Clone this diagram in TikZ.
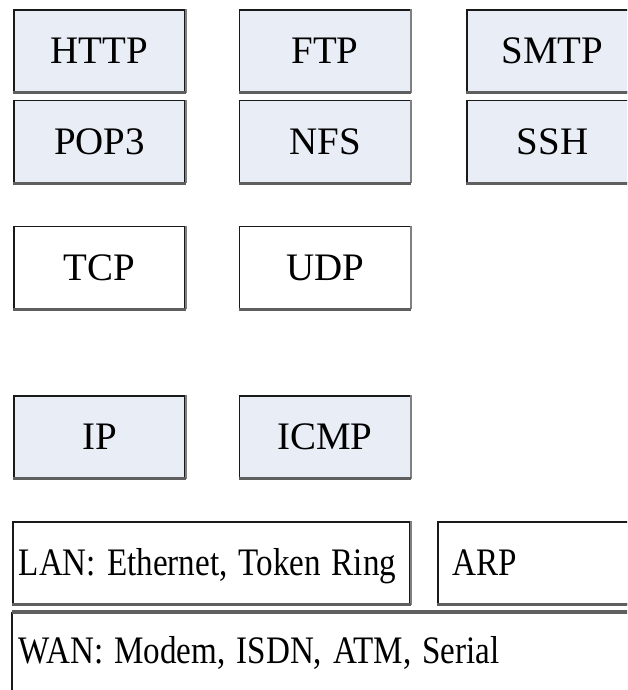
\documentclass[tikz,border=0pt]{standalone}
\usepackage{fontspec}
\setmainfont{Liberation Serif}
\usepackage{graphicx}
\definecolor{boxfill}{RGB}{233,237,246}
\definecolor{edgegray}{RGB}{95,95,95}
\newcommand{\narrow}[1]{\scalebox{0.85}[1]{#1}}

\begin{document}
\begin{tikzpicture}[x=0.025cm, y=-0.025cm,
  proto/.style={draw=black!90, line width=1.1pt, fill=boxfill, inner sep=0pt,
    minimum width=4.275cm, minimum height=2.05cm,
    font=\fontsize{27.7}{33}\selectfont, text height=18.3pt, text depth=0pt},
  plainbox/.style={proto, fill=white},
  linkbox/.style={plainbox, inner xsep=0.15cm, align=left},
  lower/.style={edgegray, line width=2.2pt},
  side/.style={gray, line width=1.3pt}]
\clip (0,0) rectangle (627,690);
% application layer
\node[proto] (http) at (99.5,51) {HTTP};
\node[proto] (ftp) at (325,51) {FTP};
\node[proto] (smtp) at (552.5,51) {SMTP};
\node[proto] (pop) at (99.5,141.5) {POP3};
\node[proto] (nfs) at (325,141.5) {NFS};
\node[proto] (ssh) at (552.5,141.5) {SSH};
% transport layer
\node[plainbox] (tcp) at (99.5,267.5) {TCP};
\node[plainbox] (udp) at (325,267.5) {UDP};
% network layer
\node[proto] (ip) at (99.5,437) {IP};
\node[proto] (icmp) at (325,437) {ICMP};
% link layer
\node[linkbox, anchor=west, text width=9.625cm, minimum height=2.05cm] (lan) at (12,563)
  {\narrow{LAN: Ethernet, Token Ring}};
\node[linkbox, anchor=west, text width=6cm, inner xsep=0.375cm, minimum height=2.05cm] (arp) at (437,563)
  {\narrow{ARP}};
\node[linkbox, draw=none, anchor=north west, text width=20cm, text height=1.275cm, text depth=1cm] (wan) at (12,612)
  {\narrow{WAN: Modem, ISDN, ATM, Serial}};
% shaded edges
\foreach \n in {http,ftp,smtp,pop,nfs,ssh,tcp,udp,ip,icmp,lan,arp}{
  \draw[side] (\n.north east) -- (\n.south east);
  \draw[lower] (\n.south west) -- (\n.south east);
}
\draw[black!90, line width=1.1pt] (wan.south west) -- (wan.north west);
\draw[lower] (wan.north west) -- (wan.north east);
\end{tikzpicture}
\end{document}
